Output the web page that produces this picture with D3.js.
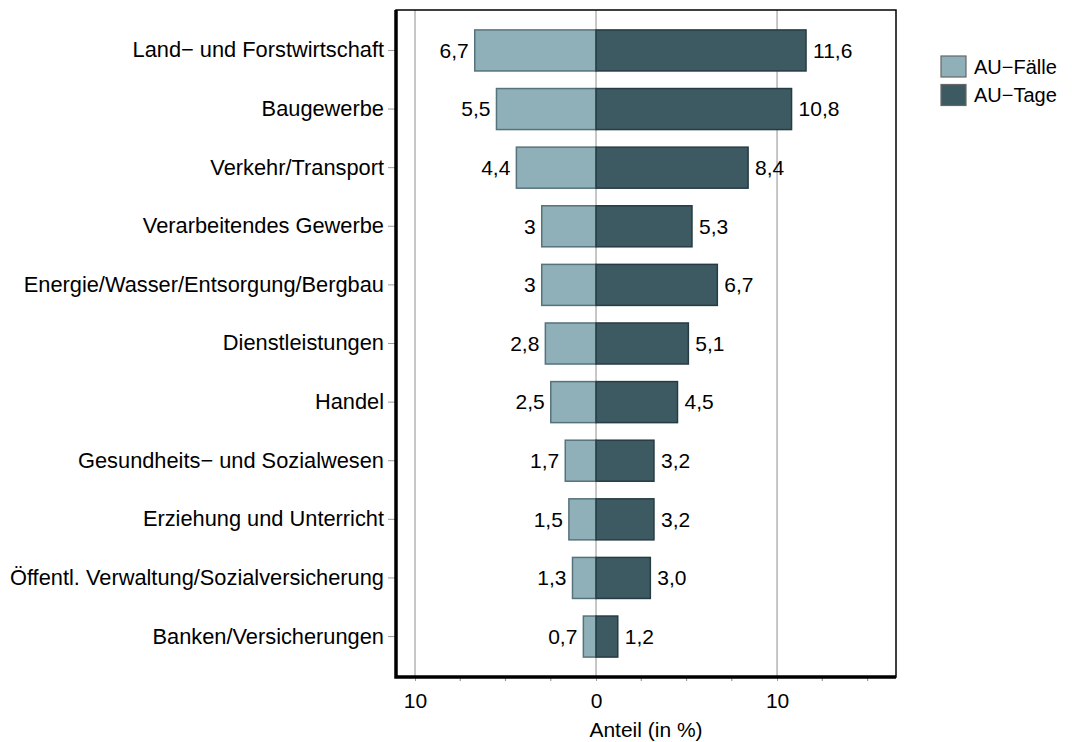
<!DOCTYPE html>
<html>
<head>
<meta charset="utf-8">
<script src="https://cdn.jsdelivr.net/npm/d3@7"></script>
<style>
  body { margin: 0; background: #fff; }
  text { font-family: "Liberation Sans", Arial, sans-serif; }
</style>
</head>
<body>
<script>
// data
var branchen = ["Land\u2212 und Forstwirtschaft", "Baugewerbe", "Verkehr/Transport",
  "Verarbeitendes Gewerbe", "Energie/Wasser/Entsorgung/Bergbau", "Dienstleistungen",
  "Handel", "Gesundheits\u2212 und Sozialwesen", "Erziehung und Unterricht",
  "\u00d6ffentl. Verwaltung/Sozialversicherung", "Banken/Versicherungen"];
var auFaelle = [6.7, 5.5, 4.4, 3, 3, 2.8, 2.5, 1.7, 1.5, 1.3, 0.7];
var auTage = [11.6, 10.8, 8.4, 5.3, 6.7, 5.1, 4.5, 3.2, 3.2, 3.0, 1.2];
var serien = ["AU\u2212F\u00e4lle", "AU\u2212Tage"];
var majorTicks = [-10, 0, 10];
var minorTicks = [-7.5, -5, -2.5, 2.5, 5, 7.5, 12.5, 15];

var farben = ["#8fb0b8", "#3d5a63"];
var rahmen = ["#56737b", "#263c43"];
var fs = "21px";

var box = {left: 396, right: 896, top: 10, bottom: 677};

var svg = d3.select("body").append("svg")
    .attr("width", 1072)
    .attr("height", 742);

var x = d3.scaleLinear()
    .domain([-11.05, 16.57])
    .range([box.left, box.right]);

var y = d3.scaleBand()
    .domain(branchen)
    .range([box.top, box.bottom])
    .paddingInner(0.3)
    .paddingOuter(0.34);

// gridlines
svg.append("g").selectAll("line")
    .data(majorTicks)
    .enter().append("line")
    .attr("x1", function(d) { return x(d); })
    .attr("x2", function(d) { return x(d); })
    .attr("y1", box.top)
    .attr("y2", box.bottom)
    .attr("stroke", "#b4b4b4")
    .attr("stroke-width", 1.5);

var rows = branchen.map(function(b, i) { return {name: b, f: auFaelle[i], t: auTage[i]}; });

// AU-Faelle (left)
svg.append("g").selectAll("rect")
    .data(rows)
    .enter().append("rect")
    .attr("x", function(d) { return x(-d.f); })
    .attr("y", function(d) { return y(d.name); })
    .attr("width", function(d) { return x(0) - x(-d.f); })
    .attr("height", y.bandwidth())
    .attr("fill", farben[0])
    .attr("stroke", rahmen[0])
    .attr("stroke-width", 1.5);

// AU-Tage (right)
svg.append("g").selectAll("rect")
    .data(rows)
    .enter().append("rect")
    .attr("x", x(0))
    .attr("y", function(d) { return y(d.name); })
    .attr("width", function(d) { return x(d.t) - x(0); })
    .attr("height", y.bandwidth())
    .attr("fill", farben[1])
    .attr("stroke", rahmen[1])
    .attr("stroke-width", 1.5);

// value labels
svg.append("g").selectAll("text")
    .data(rows)
    .enter().append("text")
    .attr("x", function(d) { return x(-d.f) - 6; })
    .attr("y", function(d) { return y(d.name) + y.bandwidth() / 2; })
    .attr("dy", "0.35em")
    .attr("text-anchor", "end")
    .style("font-size", fs)
    .text(function(d) { return String(d.f).replace(".", ","); });

svg.append("g").selectAll("text")
    .data(rows)
    .enter().append("text")
    .attr("x", function(d) { return x(d.t) + 7; })
    .attr("y", function(d) { return y(d.name) + y.bandwidth() / 2; })
    .attr("dy", "0.35em")
    .style("font-size", fs)
    .text(function(d) { return d.t.toFixed(1).replace(".", ","); });

// y axis (categories)
var yAxis = svg.append("g")
    .attr("transform", "translate(" + box.left + ",0)")
    .call(d3.axisLeft(y).tickSize(8).tickPadding(4));
yAxis.select(".domain").remove();
yAxis.selectAll("line").attr("stroke", "#999");
yAxis.selectAll("text").style("font-size", "21.8px").attr("fill", "#000")
    .style("font-family", "'Liberation Sans', Arial, sans-serif");

// x axis
var xAxis = svg.append("g")
    .attr("transform", "translate(0," + box.bottom + ")")
    .call(d3.axisBottom(x).tickValues(majorTicks).tickSize(4).tickPadding(12)
      .tickFormat(function(d) { return Math.abs(d); }));
xAxis.select(".domain").remove();
xAxis.selectAll("line").attr("stroke", "#999");
xAxis.selectAll("text").style("font-size", fs).attr("fill", "#000")
    .style("font-family", "'Liberation Sans', Arial, sans-serif");

svg.append("g").selectAll("line")
    .data(minorTicks)
    .enter().append("line")
    .attr("x1", function(d) { return x(d); })
    .attr("x2", function(d) { return x(d); })
    .attr("y1", box.bottom)
    .attr("y2", box.bottom + 4)
    .attr("stroke", "#999")
    .attr("stroke-width", 1.2);

// frame
svg.append("rect")
    .attr("x", box.left)
    .attr("y", box.top)
    .attr("width", box.right - box.left)
    .attr("height", box.bottom - box.top)
    .attr("fill", "none")
    .attr("stroke", "#000")
    .attr("stroke-width", 1.5);
svg.append("path")
    .attr("d", "M" + box.left + "," + box.top + "V" + box.bottom + "H" + box.right)
    .attr("fill", "none")
    .attr("stroke", "#000")
    .attr("stroke-width", 3.5);

svg.append("text")
    .attr("x", (box.left + box.right) / 2)
    .attr("y", 737)
    .attr("text-anchor", "middle")
    .style("font-size", fs)
    .text("Anteil (in %)");

// legend
var legend = svg.append("g").selectAll("g")
    .data(serien)
    .enter().append("g")
    .attr("transform", function(d, i) { return "translate(941," + (56 + i * 28.5) + ")"; });
legend.append("rect")
    .attr("width", 25)
    .attr("height", 21)
    .attr("fill", function(d, i) { return farben[i]; })
    .attr("stroke", "#666")
    .attr("stroke-width", 1.2);
legend.append("text")
    .attr("x", 33)
    .attr("y", 10.5)
    .attr("dy", "0.35em")
    .style("font-size", "20px")
    .text(function(d) { return d; });
</script>
</body>
</html>
